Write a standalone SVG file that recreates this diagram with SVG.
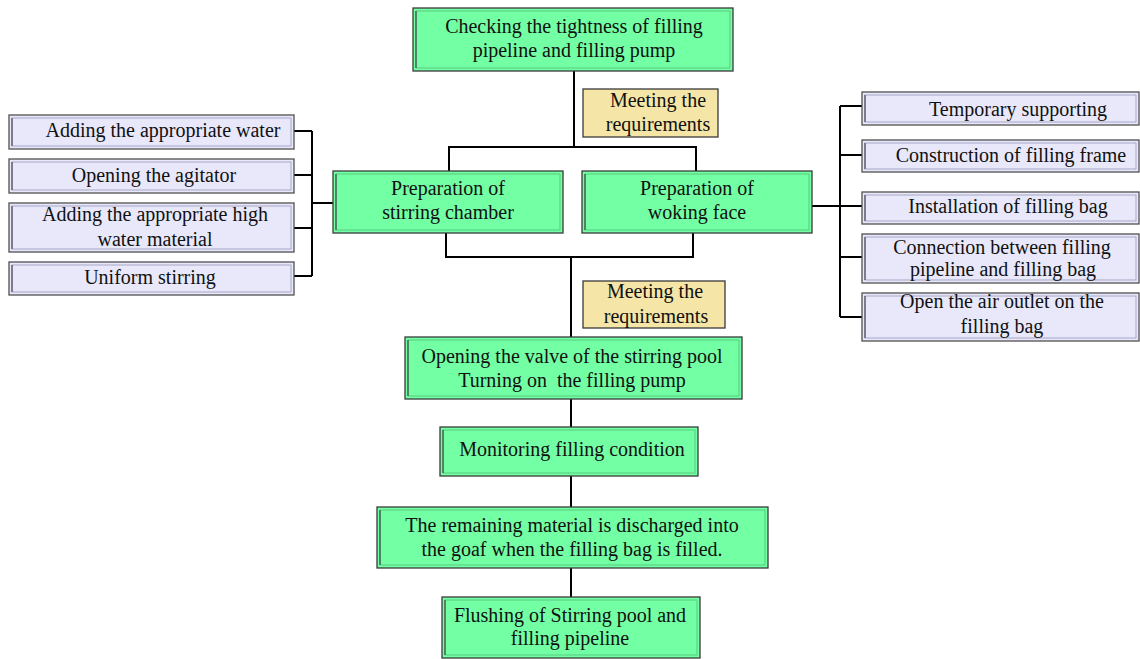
<svg xmlns="http://www.w3.org/2000/svg" width="1140" height="659" viewBox="0 0 1140 659">
<style>
text{font-family:"Liberation Serif","Times New Roman",serif;font-size:20px;fill:#111;text-anchor:middle}
.g{fill:#73FFA3;stroke:#3a3a3a;stroke-width:1.3}
.gi{fill:none;stroke:#58c982;stroke-width:1}
.gl{stroke:#4d6b58;stroke-width:1.6}
.l{fill:#E8E8FA;stroke:#505050;stroke-width:1.3}
.li{fill:none;stroke:#a6a6c4;stroke-width:1}
.ll{stroke:#6a6a78;stroke-width:1.6}
.y{fill:#F5E6A8;stroke:#3a3a3a;stroke-width:1.3}
.c{fill:none;stroke:#000;stroke-width:2}
</style>
<rect width="1140" height="659" fill="#fff"/>
<g id="connectors">
<path class="c" d="M574,71 V147 M449,172 V147 H696 V172"/>
<path class="c" d="M446,233 V257 H693 V233 M571,257 V338"/>
<path class="c" d="M571,399 V427 M571,476 V507 M571,568 V597"/>
<path class="c" d="M294,131 H312 M294,175 H312 M294,228 H312 M294,276 H312 M312,131 V276 M312,203 H333"/>
<path class="c" d="M862,106 H840 M862,155 H840 M862,206 H840 M862,257 H840 M862,317 H840 M840,106 V317 M812,206 H840"/>
</g>
<g id="n_check">
<rect class="g" x="413" y="8" width="320" height="63"/><rect class="gi" x="416" y="11" width="314" height="57"/><line class="gl" x1="416" y1="11" x2="416" y2="68"/>
<text x="574" y="33">Checking the tightness of filling</text><text x="574" y="57">pipeline and filling pump</text>
</g>
<g id="n_req1">
<rect class="y" x="583" y="89" width="135" height="48"/>
<text x="658" y="107">Meeting the</text><text x="658" y="131">requirements</text>
</g>
<g id="n_stir">
<rect class="g" x="333" y="171" width="230" height="62"/><rect class="gi" x="336" y="174" width="224" height="56"/><line class="gl" x1="336" y1="174" x2="336" y2="230"/>
<text x="448" y="195">Preparation of</text><text x="448" y="219">stirring chamber</text>
</g>
<g id="n_face">
<rect class="g" x="582" y="171" width="230" height="62"/><rect class="gi" x="585" y="174" width="224" height="56"/><line class="gl" x1="585" y1="174" x2="585" y2="230"/>
<text x="697" y="195">Preparation of</text><text x="697" y="219">woking face</text>
</g>
<g id="n_l1">
<rect class="l" x="9" y="115" width="285" height="34"/><rect class="li" x="12" y="118" width="279" height="28"/><line class="ll" x1="12" y1="118" x2="12" y2="146"/>
<text x="163" y="137">Adding the appropriate water</text>
</g>
<g id="n_l2">
<rect class="l" x="9" y="159" width="285" height="34"/><rect class="li" x="12" y="162" width="279" height="28"/><line class="ll" x1="12" y1="162" x2="12" y2="190"/>
<text x="154" y="182">Opening the agitator</text>
</g>
<g id="n_l3">
<rect class="l" x="9" y="203" width="285" height="49"/><rect class="li" x="12" y="206" width="279" height="43"/><line class="ll" x1="12" y1="206" x2="12" y2="249"/>
<text x="155" y="221">Adding the appropriate high</text><text x="155" y="246">water material</text>
</g>
<g id="n_l4">
<rect class="l" x="9" y="262" width="285" height="33"/><rect class="li" x="12" y="265" width="279" height="27"/><line class="ll" x1="12" y1="265" x2="12" y2="292"/>
<text x="150" y="284">Uniform stirring</text>
</g>
<g id="n_r1">
<rect class="l" x="862" y="92" width="277" height="33"/><rect class="li" x="865" y="95" width="271" height="27"/><line class="ll" x1="865" y1="95" x2="865" y2="122"/>
<text x="1018" y="116">Temporary supporting</text>
</g>
<g id="n_r2">
<rect class="l" x="862" y="140" width="277" height="32"/><rect class="li" x="865" y="143" width="271" height="26"/><line class="ll" x1="865" y1="143" x2="865" y2="169"/>
<text x="1011" y="162">Construction of filling frame</text>
</g>
<g id="n_r3">
<rect class="l" x="862" y="192" width="277" height="32"/><rect class="li" x="865" y="195" width="271" height="26"/><line class="ll" x1="865" y1="195" x2="865" y2="221"/>
<text x="1008" y="213">Installation of filling bag</text>
</g>
<g id="n_r4">
<rect class="l" x="862" y="234" width="277" height="49"/><rect class="li" x="865" y="237" width="271" height="43"/><line class="ll" x1="865" y1="237" x2="865" y2="280"/>
<text x="1002" y="254">Connection between filling</text><text x="1003" y="276">pipeline and filling bag</text>
</g>
<g id="n_r5">
<rect class="l" x="862" y="293" width="277" height="48"/><rect class="li" x="865" y="296" width="271" height="42"/><line class="ll" x1="865" y1="296" x2="865" y2="338"/>
<text x="1002" y="308">Open the air outlet on the</text><text x="1002" y="333">filling bag</text>
</g>
<g id="n_req2">
<rect class="y" x="583" y="281" width="142" height="47"/>
<text x="655" y="298">Meeting the</text><text x="656" y="323">requirements</text>
</g>
<g id="n_valve">
<rect class="g" x="405" y="337" width="337" height="62"/><rect class="gi" x="408" y="340" width="331" height="56"/><line class="gl" x1="408" y1="340" x2="408" y2="396"/>
<text x="572" y="363">Opening the valve of the stirring pool</text><text x="572" y="387" xml:space="preserve">Turning on  the filling pump</text>
</g>
<g id="n_monitor">
<rect class="g" x="440" y="427" width="258" height="49"/><rect class="gi" x="443" y="430" width="252" height="43"/><line class="gl" x1="443" y1="430" x2="443" y2="473"/>
<text x="572" y="456">Monitoring filling condition</text>
</g>
<g id="n_discharge">
<rect class="g" x="377" y="507" width="391" height="61"/><rect class="gi" x="380" y="510" width="385" height="55"/><line class="gl" x1="380" y1="510" x2="380" y2="565"/>
<text x="572" y="532">The remaining material is discharged into</text><text x="572" y="556">the goaf when the filling bag is filled.</text>
</g>
<g id="n_flush">
<rect class="g" x="442" y="597" width="258" height="61"/><rect class="gi" x="445" y="600" width="252" height="55"/><line class="gl" x1="445" y1="600" x2="445" y2="655"/>
<text x="570" y="622">Flushing of Stirring pool and</text><text x="570" y="645">filling pipeline</text>
</g>
</svg>
